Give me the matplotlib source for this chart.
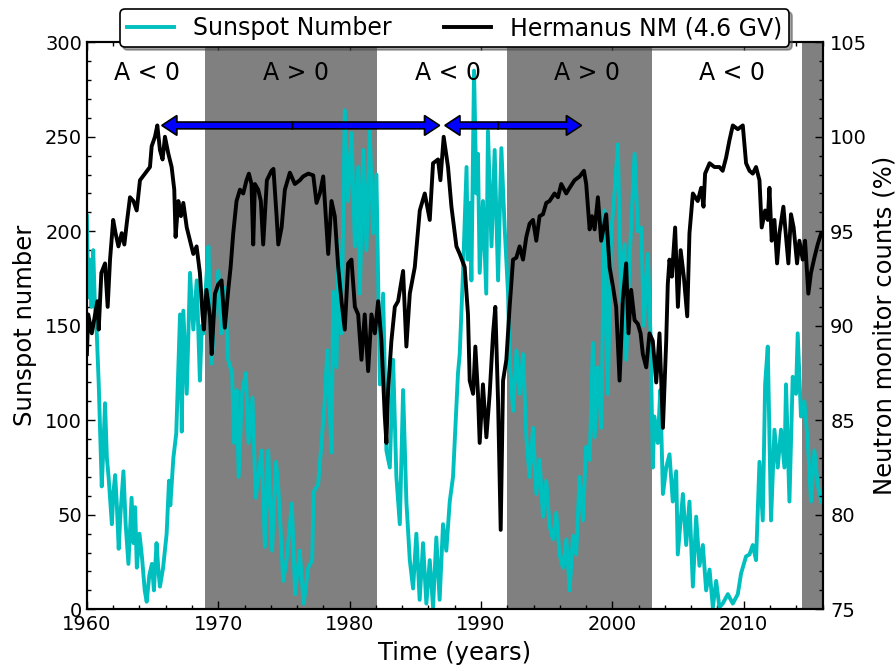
import numpy as np
import matplotlib
matplotlib.use('Agg')
import matplotlib.pyplot as plt
from matplotlib.ticker import MultipleLocator

# monthly-ish sunspot number
ss_year = [1960.00, 1960.10, 1960.22, 1960.35, 1960.48, 1960.60, 1960.75, 1960.90, 1961.13, 1961.25,
           1961.38, 1961.52, 1961.65, 1961.90, 1962.02, 1962.15, 1962.28, 1962.42, 1962.55, 1962.78,
           1962.95, 1963.16, 1963.40, 1963.55, 1963.67, 1963.80, 1964.00, 1964.20, 1964.40, 1964.55,
           1964.75, 1964.95, 1965.10, 1965.30, 1965.45, 1965.56, 1965.80, 1966.07, 1966.25, 1966.35,
           1966.58, 1966.80, 1967.09, 1967.22, 1967.34, 1967.60, 1967.85, 1968.10, 1968.36, 1968.60,
           1968.75, 1968.87, 1969.05, 1969.25, 1969.50, 1969.75, 1970.00, 1970.25, 1970.50, 1970.75,
           1971.05, 1971.20, 1971.40, 1971.55, 1971.80, 1972.10, 1972.30, 1972.60, 1972.85, 1973.30,
           1973.55, 1973.80, 1974.10, 1974.25, 1974.40, 1974.55, 1974.70, 1974.94, 1975.20, 1975.60,
           1975.85, 1976.20, 1976.50, 1976.85, 1977.15, 1977.25, 1977.60, 1977.85, 1978.10, 1978.30,
           1978.62, 1978.75, 1979.00, 1979.13, 1979.38, 1979.63, 1979.88, 1980.14, 1980.40, 1980.65,
           1980.78, 1981.03, 1981.28, 1981.53, 1981.78, 1982.04, 1982.30, 1982.55, 1982.80, 1983.06,
           1983.31, 1983.56, 1983.82, 1984.07, 1984.32, 1984.58, 1984.83, 1985.08, 1985.33, 1985.59,
           1985.84, 1986.10, 1986.35, 1986.60, 1986.85, 1987.11, 1987.36, 1987.62, 1987.87, 1988.13,
           1988.25, 1988.38, 1988.63, 1988.90, 1989.00, 1989.14, 1989.27, 1989.47, 1989.65, 1989.77,
           1989.90, 1990.15, 1990.40, 1990.53, 1990.80, 1991.04, 1991.30, 1991.55, 1991.80, 1992.06,
           1992.18, 1992.44, 1992.70, 1992.94, 1993.20, 1993.45, 1993.70, 1993.96, 1994.21, 1994.46,
           1994.72, 1994.97, 1995.22, 1995.48, 1995.73, 1995.98, 1996.24, 1996.50, 1996.75, 1997.00,
           1997.25, 1997.50, 1997.76, 1998.00, 1998.27, 1998.52, 1998.65, 1998.90, 1999.15, 1999.40,
           1999.65, 1999.91, 2000.16, 2000.42, 2000.67, 2000.93, 2001.05, 2001.31, 2001.69, 2001.95,
           2002.20, 2002.40, 2002.70, 2002.90, 2003.08, 2003.20, 2003.46, 2003.65, 2003.85, 2004.10,
           2004.35, 2004.60, 2004.86, 2004.98, 2005.37, 2005.62, 2005.87, 2006.13, 2006.38, 2006.63,
           2006.89, 2007.14, 2007.40, 2007.65, 2007.90, 2008.15, 2008.40, 2008.79, 2009.17, 2009.55,
           2009.80, 2010.18, 2010.44, 2010.69, 2010.94, 2011.20, 2011.45, 2011.63, 2011.83, 2012.08,
           2012.34, 2012.59, 2012.84, 2013.10, 2013.22, 2013.48, 2013.73, 2013.98, 2014.11, 2014.36,
           2014.62, 2014.87, 2015.12, 2015.38, 2015.63, 2015.90]
ss_val = [208, 165, 185, 160, 190, 163, 146, 119, 65, 85,
          109, 80, 70, 45, 62, 71, 55, 32, 50, 73,
          45, 24, 59, 35, 54, 22, 40, 27, 10, 4,
          18, 24, 10, 35, 20, 12, 22, 40, 68, 55,
          80, 93, 156, 94, 158, 114, 178, 148, 174, 121,
          150, 146, 170, 192, 130, 160, 179, 146, 170, 132,
          125, 88, 116, 70, 114, 125, 88, 112, 59, 84,
          33, 84, 31, 57, 78, 66, 49, 15, 26, 56,
          8, 31, 3, 22, 26, 62, 66, 87, 110, 137,
          83, 168, 128, 195, 146, 264, 216, 252, 192, 234,
          167, 243, 190, 253, 199, 230, 119, 167, 84, 75,
          132, 70, 45, 116, 57, 26, 11, 40, 5, 35,
          3, 26, 1, 38, 5, 45, 31, 57, 70, 107,
          125, 135, 178, 234, 185, 215, 174, 285, 220, 241,
          178, 216, 167, 253, 192, 243, 174, 244, 202, 167,
          132, 105, 137, 114, 135, 91, 70, 96, 61, 79,
          49, 68, 44, 37, 51, 29, 22, 37, 10, 39,
          29, 70, 47, 86, 79, 141, 91, 128, 96, 211,
          114, 199, 220, 246, 163, 193, 132, 185, 241, 200,
          202, 150, 188, 146, 75, 102, 88, 116, 61, 75,
          82, 57, 73, 29, 61, 34, 57, 12, 49, 23,
          34, 10, 21, 1, 15, 1, 3, 8, 3, 8,
          19, 28, 29, 34, 26, 78, 47, 119, 139, 47,
          95, 75, 95, 75, 119, 57, 123, 114, 146, 102,
          110, 89, 57, 84, 66, 57]

# Hermanus neutron monitor count rate (%)
nm_year = [1960.00, 1960.10, 1960.37, 1960.62, 1960.80, 1960.90, 1961.10, 1961.38, 1961.58, 1961.76,
           1962.00, 1962.18, 1962.40, 1962.65, 1962.85, 1963.03, 1963.28, 1963.54, 1963.79, 1964.04,
           1964.42, 1964.80, 1964.93, 1965.18, 1965.36, 1965.56, 1965.76, 1965.94, 1966.20, 1966.45,
           1966.65, 1966.75, 1966.96, 1967.16, 1967.34, 1967.60, 1967.85, 1968.10, 1968.35, 1968.60,
           1968.80, 1968.90, 1969.10, 1969.37, 1969.50, 1969.75, 1970.00, 1970.25, 1970.50, 1970.76,
           1970.94, 1971.14, 1971.39, 1971.65, 1971.90, 1972.15, 1972.33, 1972.53, 1972.66, 1972.79,
           1973.04, 1973.24, 1973.42, 1973.70, 1974.05, 1974.20, 1974.44, 1974.57, 1974.82, 1975.07,
           1975.45, 1975.83, 1976.21, 1976.46, 1976.85, 1977.23, 1977.48, 1977.73, 1977.99, 1978.12,
           1978.37, 1978.62, 1978.87, 1979.13, 1979.38, 1979.63, 1979.89, 1980.14, 1980.40, 1980.65,
           1980.90, 1981.15, 1981.41, 1981.66, 1981.92, 1982.17, 1982.42, 1982.67, 1982.80, 1982.93,
           1983.18, 1983.44, 1983.69, 1984.07, 1984.32, 1984.58, 1984.96, 1985.34, 1985.72, 1986.10,
           1986.35, 1986.73, 1986.91, 1987.16, 1987.49, 1987.75, 1988.13, 1988.38, 1988.76, 1989.01,
           1989.14, 1989.40, 1989.57, 1989.77, 1989.90, 1990.15, 1990.41, 1990.66, 1990.92, 1991.09,
           1991.30, 1991.50, 1991.68, 1991.93, 1992.18, 1992.44, 1992.69, 1992.94, 1993.20, 1993.45,
           1993.70, 1993.96, 1994.21, 1994.46, 1994.72, 1994.97, 1995.22, 1995.60, 1995.86, 1996.11,
           1996.49, 1996.75, 1997.12, 1997.51, 1997.84, 1998.01, 1998.27, 1998.45, 1998.65, 1998.90,
           1999.15, 1999.53, 1999.79, 2000.04, 2000.29, 2000.55, 2000.80, 2001.05, 2001.23, 2001.43,
           2001.69, 2001.94, 2002.15, 2002.32, 2002.58, 2002.83, 2003.08, 2003.34, 2003.59, 2003.85,
           2004.10, 2004.22, 2004.35, 2004.53, 2004.78, 2004.99, 2005.20, 2005.44, 2005.70, 2005.87,
           2006.13, 2006.50, 2006.76, 2006.94, 2007.06, 2007.40, 2007.77, 2008.15, 2008.40, 2008.66,
           2008.91, 2009.17, 2009.55, 2009.93, 2010.18, 2010.44, 2010.69, 2010.94, 2011.20, 2011.37,
           2011.63, 2011.83, 2011.96, 2012.13, 2012.34, 2012.54, 2012.72, 2013.02, 2013.22, 2013.40,
           2013.60, 2013.80, 2014.06, 2014.24, 2014.49, 2014.67, 2014.92, 2015.12, 2015.38, 2015.63,
           2015.90]
nm_val = [88.5, 90.6, 89.6, 90.6, 91.3, 89.8, 92.8, 93.3, 91.0, 93.5,
          95.6, 94.9, 94.2, 94.9, 94.3, 95.4, 96.8, 96.6, 96.1, 97.7,
          98.05, 98.4, 99.5, 100.0, 100.6, 99.3, 98.8, 100.0, 99.1, 98.4,
          97.2, 94.7, 96.6, 95.8, 96.5, 95.2, 94.5, 93.8, 94.2, 92.8,
          90.6, 89.8, 91.9, 90.5, 88.5, 91.7, 92.2, 92.4, 89.9, 91.9,
          93.1, 94.9, 96.6, 97.2, 97.0, 97.7, 98.05, 97.5, 94.3, 97.5,
          97.2, 96.6, 94.3, 97.7, 98.2, 98.3, 95.8, 94.3, 95.2, 97.2,
          98.1, 97.5, 97.7, 97.9, 98.05, 97.96, 96.5, 97.0, 97.9, 96.5,
          93.8, 96.6, 95.8, 93.1, 91.3, 89.8, 93.3, 93.5, 91.0, 90.6,
          88.2, 90.6, 87.6, 90.6, 89.6, 91.3, 89.2, 85.3, 83.8, 86.6,
          89.2, 91.0, 91.3, 92.9, 88.9, 91.7, 93.1, 96.1, 97.0, 95.6,
          98.6, 98.8, 97.7, 100.0, 98.4, 96.3, 94.2, 93.8, 93.1, 90.6,
          87.1, 86.4, 88.9, 86.4, 83.8, 86.9, 84.1, 86.4, 89.6, 91.0,
          86.0, 79.2, 87.1, 88.2, 91.0, 93.5, 93.6, 94.2, 93.5, 94.7,
          95.4, 95.6, 94.5, 95.8, 95.9, 96.5, 96.6, 97.0, 96.8, 97.5,
          97.0, 97.3, 97.7, 97.9, 98.2, 97.5, 95.1, 95.8, 95.1, 96.8,
          94.5, 95.9, 93.1, 92.1, 91.0, 87.1, 91.4, 93.3, 89.6, 91.9,
          90.3, 90.1, 89.6, 88.5, 87.8, 89.6, 89.2, 87.0, 89.6, 84.6,
          89.2, 92.2, 93.5, 92.6, 95.2, 91.0, 94.0, 92.6, 90.5, 94.9,
          97.0, 96.6, 97.3, 96.3, 98.05, 98.6, 98.4, 98.4, 98.2, 98.9,
          99.8, 100.6, 100.4, 100.6, 98.6, 98.2, 98.05, 98.4, 97.7, 95.2,
          96.1, 95.6, 97.3, 94.5, 95.6, 93.3, 94.9, 96.3, 94.7, 93.3,
          95.9, 95.2, 93.3, 94.5, 93.5, 94.5, 91.7, 92.8, 93.6, 94.3,
          94.9]

# polarity epochs
pos_start = [1969.0, 1992.0, 2014.4]
pos_end = [1982.05, 2003.05, 2016.0]
epoch_x = [1964.6, 1975.9, 1987.5, 1998.1, 2009.1]
epoch_lbl = ['A < 0', 'A > 0', 'A < 0', 'A > 0', 'A < 0']

# 22-yr and 11-yr arrows (start, middle, end) on NM scale
arrow_sets = [(1965.7, 1975.65, 1986.85), (1987.25, 1991.3, 1997.65)]
arrow_y = 100.6

fig = plt.figure(figsize=(8.96, 6.71), dpi=100)
ax = fig.add_axes([0.097, 0.092, 0.821, 0.845])

for a, b in zip(pos_start, pos_end):
    ax.axvspan(a, b, color='0.5', lw=0, zorder=0)

ax.plot(ss_year, ss_val, color='c', lw=2.8, label='Sunspot Number', zorder=2)
for x, t in zip(epoch_x, epoch_lbl):
    ax.text(x, 284, t, ha='center', va='center', fontsize=17)

ax.set_xlim(1960, 2016)
ax.set_ylim(0, 300)
ax.xaxis.set_major_locator(MultipleLocator(10))
ax.xaxis.set_minor_locator(MultipleLocator(2))
ax.yaxis.set_major_locator(MultipleLocator(50))
ax.yaxis.set_minor_locator(MultipleLocator(10))
ax.set_xlabel('Time (years)', fontsize=17.5, labelpad=5)
ax.set_ylabel('Sunspot number', fontsize=17.5, labelpad=6)

ax2 = ax.twinx()
ax2.plot(nm_year, nm_val, color='k', lw=2.8, label='Hermanus NM (4.6 GV)')
ax2.set_ylim(75, 105)
ax2.yaxis.set_major_locator(MultipleLocator(5))
ax2.yaxis.set_minor_locator(MultipleLocator(1))
ax2.set_ylabel('Neutron monitor counts (%)', fontsize=17.5, labelpad=4)

for x0, xm, x1 in arrow_sets:
    for xe in (x0, x1):
        ax2.arrow(xm, arrow_y, xe - xm, 0, width=0.36, head_width=1.05, head_length=1.15,
                  length_includes_head=True, fc='b', ec='k', lw=1.2, zorder=6)

for a in (ax, ax2):
    for s in a.spines.values():
        s.set_linewidth(1.5)
ax.tick_params(which='both', direction='in', top=True, right=False, labelsize=14)
ax.tick_params(axis='x', pad=4)
ax.tick_params(axis='y', pad=3.5)
ax.tick_params(which='major', length=6, width=1)
ax.tick_params(which='minor', length=3, width=1)
ax2.tick_params(which='both', direction='in', labelsize=14, pad=5.5)
ax2.tick_params(which='major', length=6, width=1)
ax2.tick_params(which='minor', length=3, width=1)

h1, l1 = ax.get_legend_handles_labels()
h2, l2 = ax2.get_legend_handles_labels()
leg = ax2.legend(h1 + h2, l1 + l2, loc='center', bbox_to_anchor=(0.5, 1.025), ncol=2,
                 fontsize=17, fancybox=True, shadow=True, borderpad=0.3, handlelength=2.0,
                 columnspacing=2.2, framealpha=1)
leg.get_frame().set_edgecolor('k')
leg.get_frame().set_linewidth(1.2)

fig.savefig('out.png', dpi=100)
